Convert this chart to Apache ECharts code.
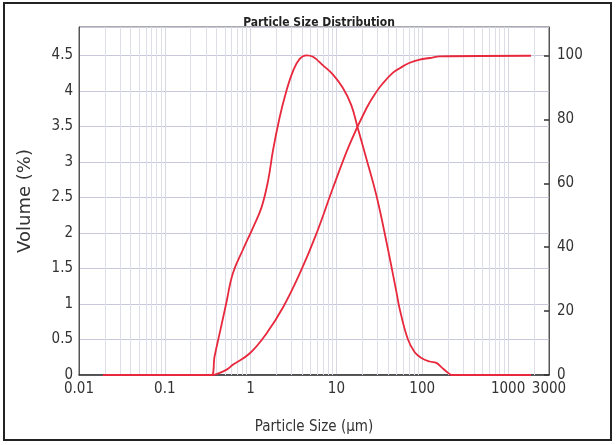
<!DOCTYPE html>
<html>
<head>
<meta charset="utf-8">
<script src="https://cdn.jsdelivr.net/npm/echarts@6/dist/echarts.min.js"></script>
<style>
    html, body { margin: 0; padding: 0; background: #fff; }
    #chart { width: 616px; height: 445px; }
</style>
</head>
<body>
<div id="chart"></div>
<script>
// particle size (um) and volume %
var freqSize = [0.019, 0.35, 0.38, 0.436, 0.52, 0.62, 0.81, 1.07, 1.34, 1.6, 1.82, 2.18, 2.61, 3.12, 3.73, 4.47, 5.33, 6.97, 9.12, 11.9, 14.9, 17.8, 22.3, 29.2, 38.2, 50, 54.6, 67.7, 81.7, 97.7, 122, 146, 167, 200, 220, 1850];
var freqVol = [0, 0, 0.26, 0.59, 1.01, 1.43, 1.76, 2.08, 2.36, 2.74, 3.16, 3.63, 4.0, 4.28, 4.45, 4.5, 4.48, 4.36, 4.23, 4.04, 3.8, 3.47, 3.05, 2.53, 1.88, 1.17, 0.93, 0.51, 0.32, 0.24, 0.19, 0.17, 0.11, 0.03, 0, 0];

// cumulative volume %
var cumSize = [0.019, 0.35, 0.40, 0.52, 0.62, 0.98, 1.53, 2.39, 3.73, 5.82, 9.1, 14.2, 22.3, 29.2, 34.8, 45.6, 54.6, 71.5, 93.4, 122, 160, 1850];
var cumVol = [0, 0, 0.3, 1.6, 3.2, 6.8, 13.0, 21.2, 31.7, 44.1, 58.5, 72.1, 83.4, 88.6, 91.3, 94.6, 96.0, 97.7, 98.7, 99.2, 99.7, 99.9];

// log grid: decades and the minor lines inside each one
var decades = [0.01, 0.1, 1, 10, 100, 1000];
var minorSteps = [2, 3, 4, 5, 6, 7, 8, 9];

var narrow = "'DejaVu Sans Condensed', 'Liberation Sans Narrow', 'Liberation Sans', sans-serif";
var red = '#e8283c';

function pairs(xs, ys) {
    var out = [];
    for (var i = 0; i < xs.length; i++) {
        out.push([xs[i], ys[i]]);
    }
    return out;
}

var minorLines = [];
decades.forEach(function (d) {
    minorSteps.forEach(function (m) {
        var v = +(d * m).toPrecision(3);
        if (v < 3000) {
            minorLines.push({ xAxis: v });
        }
    });
});

var myChart = echarts.init(document.getElementById('chart'));
var option = {
    animation: false,
    title: {
        text: 'Particle Size Distribution',
        left: 314,
        textAlign: 'center',
        top: 12,
        textStyle: {
            fontFamily: narrow,
            fontSize: 12,
            fontWeight: 'bold',
            color: '#222'
        }
    },
    graphic: [{
        type: 'rect',
        shape: { x: 4, y: 3, width: 607, height: 437 },
        style: { fill: 'none', stroke: '#222', lineWidth: 2 },
        silent: true
    }],
    grid: {
        left: 79,
        right: 67,
        top: 27,
        bottom: 70,
        show: true,
        borderColor: '#555',
        borderWidth: 1
    },
    xAxis: {
        type: 'log',
        min: 0.01,
        max: 3000,
        name: 'Particle Size (µm)',
        nameLocation: 'middle',
        nameGap: 45,
        nameTextStyle: {
            fontFamily: narrow,
            fontSize: 15,
            color: '#333'
        },
        axisLine: { lineStyle: { color: '#333', width: 1.5 } },
        axisTick: { show: false },
        axisLabel: {
            fontFamily: narrow,
            fontSize: 15,
            color: '#333',
            margin: 7,
            hideOverlap: false,
            formatter: function (v) {
                return String(+v.toPrecision(2));
            }
        },
        splitLine: { show: true, lineStyle: { color: '#d8d8e4', width: 1 } }
    },
    yAxis: [{
        type: 'value',
        min: 0,
        max: 4.9,
        interval: 0.5,
        name: 'Volume (%)',
        nameLocation: 'middle',
        nameGap: 45,
        nameTextStyle: {
            fontFamily: "'DejaVu Sans', sans-serif",
            fontSize: 18,
            color: '#333'
        },
        axisLine: { show: true, lineStyle: { color: '#555' } },
        axisTick: { show: false },
        axisLabel: {
            fontFamily: narrow,
            fontSize: 15,
            color: '#333',
            margin: 6,
            showMaxLabel: false
        },
        splitLine: { show: true, lineStyle: { color: '#c8c8dc', width: 1 } }
    }, {
        type: 'value',
        min: 0,
        max: 108.9,
        interval: 20,
        position: 'right',
        axisLine: { show: true, lineStyle: { color: '#555' } },
        axisTick: { show: true, inside: true, length: 5, lineStyle: { color: '#333', width: 1.5 } },
        axisLabel: {
            fontFamily: narrow,
            fontSize: 15,
            color: '#333',
            margin: 8,
            showMaxLabel: false
        },
        splitLine: { show: false }
    }],
    series: [{
        name: 'Volume',
        type: 'line',
        yAxisIndex: 0,
        data: pairs(freqSize, freqVol),
        smooth: 0.4,
        showSymbol: false,
        lineStyle: { color: red, width: 1.8 },
        markLine: {
            silent: true,
            symbol: 'none',
            label: { show: false },
            lineStyle: { color: '#dedee8', width: 1, type: 'solid' },
            data: minorLines,
            z: 1
        }
    }, {
        name: 'Cumulative',
        type: 'line',
        yAxisIndex: 1,
        data: pairs(cumSize, cumVol),
        smooth: 0.4,
        showSymbol: false,
        lineStyle: { color: red, width: 1.8 }
    }]
};
myChart.setOption(option);
</script>
</body>
</html>
